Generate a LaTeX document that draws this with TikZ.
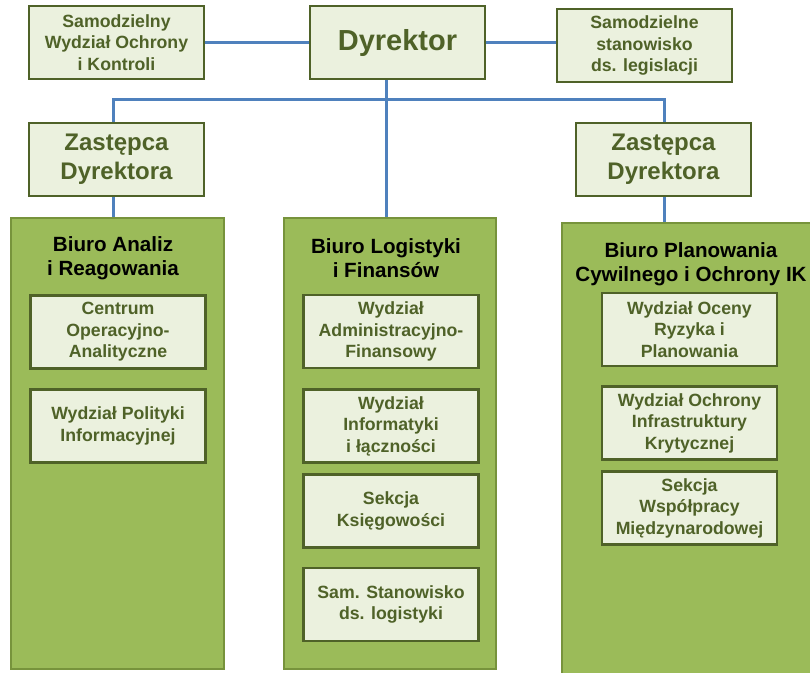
\documentclass[tikz,border=0pt]{standalone}
\usepackage{fontspec}
\setmainfont{Liberation Sans}
\definecolor{boxfill}{HTML}{EBF1DE}
\definecolor{boxline}{HTML}{4F6228}
\definecolor{boxtext}{HTML}{4F6228}
\definecolor{panelfill}{HTML}{9BBB59}
\definecolor{panelline}{HTML}{77933C}
\definecolor{link}{HTML}{4F81BD}
\tikzset{
  unit/.style={draw=boxline, fill=boxfill, line width=2.2pt, text=boxtext,
    font=\bfseries\fontsize{17.7}{21.5}\selectfont, align=center,
    inner sep=0pt, minimum width=175pt, minimum height=73pt},
  headbox/.style={unit, font=\bfseries\fontsize{24}{29}\selectfont},
  topbox/.style={unit, font=\bfseries\fontsize{29}{33}\selectfont},
  panel/.style={draw=panelline, fill=panelfill, line width=2.2pt, inner sep=0pt},
  paneltitle/.style={text=black, align=center, inner sep=0pt,
    font=\bfseries\fontsize{20.6}{24}\selectfont},
  connector/.style={draw=link, line width=3pt}
}
\begin{document}
\begin{tikzpicture}[x=1pt, y=-1pt]
\clip (0,0) rectangle (810,672);
\fill[white] (0,0) rectangle (810,672);

% offices (large green panels)
\node[panel, minimum width=213pt, minimum height=451pt] (pleft) at (117.5,443.5) {};
\node[panel, minimum width=212pt, minimum height=451pt] (pmid) at (390,443.5) {};
\node[panel, minimum width=258pt, minimum height=458pt] (pright) at (691,452) {};

\node[paneltitle] (tleft) at (113,258.6) {Biuro Analiz\\i Reagowania};
\node[paneltitle] (tmid) at (386,258.6) {Biuro Logistyki\\i Finansów};
\node[paneltitle] (tright) at (691,264.6) {Biuro Planowania\\Cywilnego i Ochrony IK};

% top level
\node[unit] (sw) at (116.5,42.5) {Samodzielny\\Wydział Ochrony\\i Kontroli};
\node[topbox] (dyr) at (397.5,42.5) {Dyrektor};
\node[unit] (ss) at (644.5,45.5) {Samodzielne\\stanowisko\\ds. legislacji};

% deputies
\node[headbox] (zl) at (116.5,159.5) {Zastępca\\Dyrektora};
\node[headbox] (zr) at (663.5,159.5) {Zastępca\\Dyrektora};

% units of the left office
\node[unit] (l1) at (118,332) {Centrum\\Operacyjno-\\Analityczne};
\node[unit] (l2) at (118,426) {Wydział Polityki\\Informacyjnej};

% units of the middle office
\node[unit] (m1) at (391,331.5) {Wydział\\Administracyjno-\\Finansowy};
\node[unit] (m2) at (391,426) {Wydział\\Informatyki\\i łączności};
\node[unit] (m3) at (391,511) {Sekcja\\Księgowości};
\node[unit] (m4) at (391,604.5) {Sam. Stanowisko\\ds. logistyki};

% units of the right office
\node[unit] (r1) at (689.5,329.5) {Wydział Oceny\\Ryzyka i\\Planowania};
\node[unit] (r2) at (689.5,423) {Wydział Ochrony\\Infrastruktury\\Krytycznej};
\node[unit] (r3) at (689.5,508) {Sekcja\\Współpracy\\Międzynarodowej};

% connectors
\coordinate (trunk) at (386,99);
\coordinate (busL) at (113,99);
\coordinate (busR) at (664,99);
\draw[connector] (sw.east) -- (dyr.west);
\draw[connector] (dyr.east) -- (dyr.east -| ss.west);
\draw[connector] (dyr.south -| trunk) -- (pmid.north -| trunk);
\draw[connector] (zl.north -| busL) -- (busL) -- (busR) -- (zr.north -| busR);
\draw[connector] (zl.south -| busL) -- (pleft.north -| busL);
\draw[connector] (zr.south -| busR) -- (pright.north -| busR);
\end{tikzpicture}
\end{document}
